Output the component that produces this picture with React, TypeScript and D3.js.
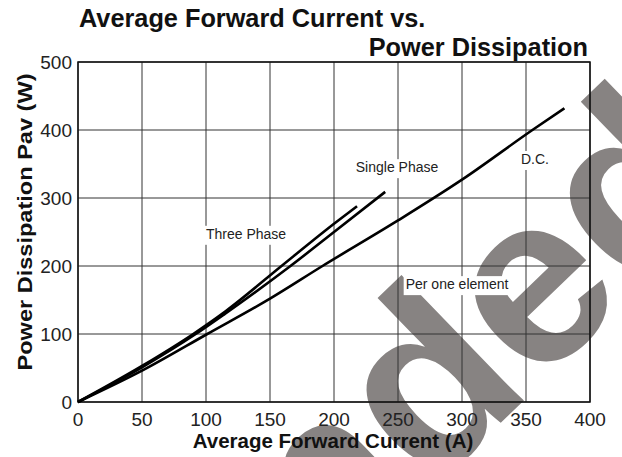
import React from "react";
import * as d3 from "d3";

// values
const xTicks = [0, 50, 100, 150, 200, 250, 300, 350, 400];
const yTicks = [0, 100, 200, 300, 400, 500];

const threePhaseI = [0, 50, 90, 115, 159, 200, 218];
const threePhaseP = [0, 53, 100, 133, 200, 262, 288];

const singlePhaseI = [0, 50, 92, 115, 166, 200, 240];
const singlePhaseP = [0, 51, 100, 130, 200, 250, 309];

const dcI = [0, 50, 101, 150, 191, 250, 300, 355, 380];
const dcP = [0, 46, 100, 152, 200, 267, 327, 400, 432];

const labels = [
  { text: "Three Phase", i: 100, p: 240 },
  { text: "Single Phase", i: 217, p: 338 },
  { text: "D.C.", i: 346, p: 350 },
  { text: "Per one element", i: 256, p: 166 },
];

// watermark text, split where it crosses the plot
const markHead = "Not recommen";
const markTail = "ded";

const W = 622;
const H = 457;
const margin = { top: 62, right: 32, bottom: 55, left: 78 };

const App = () => {
  const width = W - margin.left - margin.right;
  const height = H - margin.top - margin.bottom;

  const x = d3.scaleLinear().domain([0, 400]).range([0, width]);
  const y = d3.scaleLinear().domain([0, 500]).range([height, 0]);

  const line = d3
    .line<[number, number]>()
    .x((d) => x(d[0]))
    .y((d) => y(d[1]))
    .curve(d3.curveMonotoneX);

  const series = [
    d3.zip(threePhaseI, threePhaseP),
    d3.zip(singlePhaseI, singlePhaseP),
    d3.zip(dcI, dcP),
  ] as [number, number][][];

  const font = "'Liberation Sans', Arial, Helvetica, sans-serif";
  const mark = "translate(429,492) rotate(-44)";

  return (
    <svg
      width={W}
      height={H}
      style={{ position: "absolute", left: 0, top: 0, background: "#fff" }}
      fontFamily={font}
    >
      {/* watermark, runs off the picture like in the original */}
      <g fontSize={242} fontWeight="bold" fill="#878382">
        <text transform={mark} textAnchor="end">{markHead}</text>
        <text transform={mark}>{markTail}</text>
      </g>

      <text x={79} y={27} fontSize={25.3} fontWeight="bold" fill="#111">
        Average Forward Current vs.
      </text>
      <text x={588} y={56} fontSize={25.3} fontWeight="bold" fill="#111" textAnchor="end">
        Power Dissipation
      </text>

      <g transform={`translate(${margin.left},${margin.top})`}>
        {xTicks.map((t) => (
          <line key={"gx" + t} x1={x(t)} x2={x(t)} y1={0} y2={height} stroke="#333" strokeWidth={1} />
        ))}
        {yTicks.map((t) => (
          <line key={"gy" + t} x1={0} x2={width} y1={y(t)} y2={y(t)} stroke="#333" strokeWidth={1} />
        ))}
        <rect x={0} y={0} width={width} height={height} fill="none" stroke="#111" strokeWidth={1.5} />

        {series.map((s, i) => (
          <path key={i} d={line(s) || ""} fill="none" stroke="#000" strokeWidth={2.6} />
        ))}

        {labels.map((l) => (
          <g key={l.text}>
            <rect
              x={x(l.i) - 2}
              y={y(l.p) - 13}
              width={l.text.length * 7.4 + 4}
              height={19}
              fill="#fff"
            />
            <text x={x(l.i)} y={y(l.p)} fontSize={14} fill="#222">
              {l.text}
            </text>
          </g>
        ))}

        {xTicks.map((t) => (
          <text key={"tx" + t} x={x(t)} y={height + 24} fontSize={19} textAnchor="middle" fill="#222">
            {t}
          </text>
        ))}
        {yTicks.map((t) => (
          <text key={"ty" + t} x={-6} y={y(t) + 7} fontSize={19} textAnchor="end" fill="#222">
            {t}
          </text>
        ))}

        <text x={width / 2 - 1} y={height + 46} fontSize={20.5} fontWeight="bold" textAnchor="middle" fill="#111">
          Average Forward Current (A)
        </text>
        <text
          transform={`translate(-46,${height / 2 - 10}) rotate(-90)`}
          fontSize={21}
          fontWeight="bold"
          textAnchor="middle"
          textLength={297}
          lengthAdjust="spacingAndGlyphs"
          fill="#111"
        >
          Power Dissipation Pav (W)
        </text>
      </g>
    </svg>
  );
};

export default App;
